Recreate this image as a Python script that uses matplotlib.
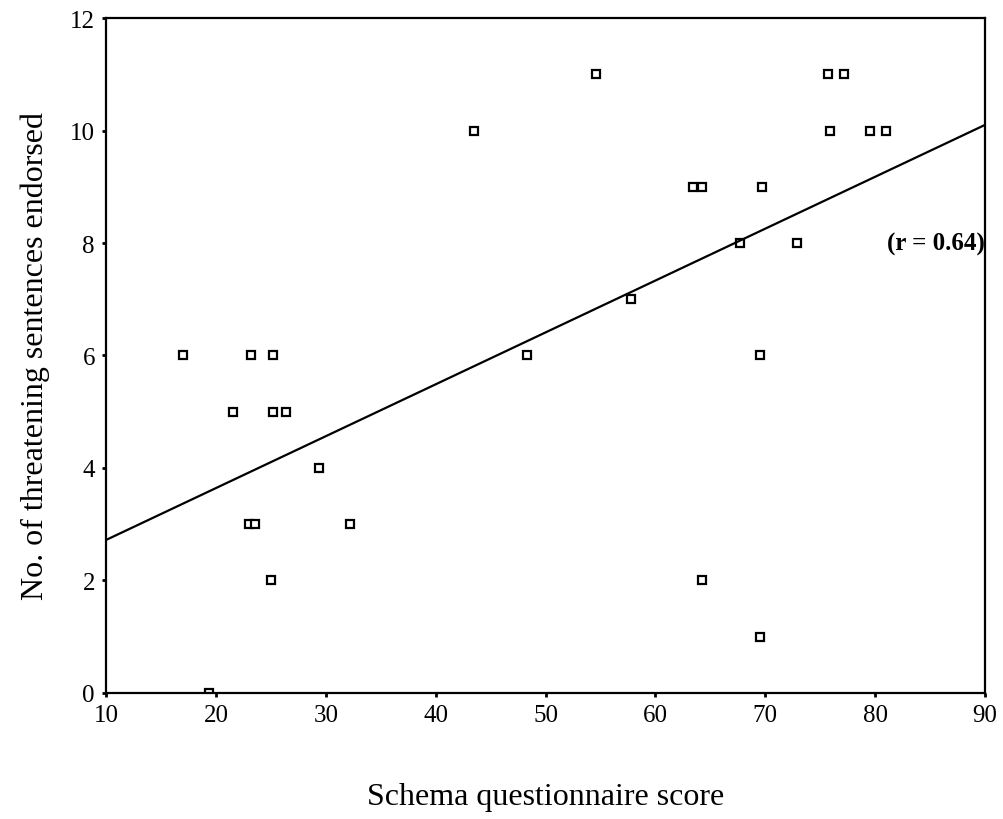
import matplotlib

matplotlib.use("Agg")
import matplotlib.pyplot as plt

plt.rcParams["font.family"] = ["Liberation Serif", "DejaVu Serif"]

# schema questionnaire score vs. number of threatening sentences endorsed
score = [17.0, 21.6, 23.2, 25.2, 25.2, 26.4, 23.0, 23.6, 25.0, 29.4, 32.2, 19.4,
         43.5, 48.3, 54.6, 57.8, 63.4, 64.2, 67.7, 69.7, 69.5, 64.2, 69.5, 72.9,
         75.7, 77.2, 75.9, 79.5, 81.0]
endorsed = [6, 5, 6, 6, 5, 5, 3, 3, 2, 4, 3, 0,
            10, 6, 11, 7, 9, 9, 8, 9, 6, 2, 1, 8,
            11, 11, 10, 10, 10]

# fitted regression line
fit_x = [10, 90]
fit_y = [2.72, 10.1]

fig = plt.figure(figsize=(10.04, 8.2), dpi=100)
ax = fig.add_axes([0.1056, 0.1537, 0.8755, 0.8231])

ax.plot(score, endorsed, ls="none", marker="s", ms=5.5, mfc="white", mec="black", mew=1.6)
ax.plot(fit_x, fit_y, color="black", lw=1.6)
ax.text(90, 8, "(r = 0.64)", ha="right", va="center", fontsize=18, fontweight="bold")

ax.set_xlim(10, 90)
ax.set_ylim(0, 12)
ax.set_xticks(range(10, 91, 10))
ax.set_yticks(range(0, 13, 2))
ax.tick_params(direction="out", length=3, width=2, labelsize=18, pad=5)
for sp in ax.spines.values():
    sp.set_linewidth(1.6)

ax.set_xlabel("Schema questionnaire score", fontsize=23, labelpad=40)
ax.set_ylabel("No. of threatening sentences endorsed", fontsize=23, labelpad=14)

fig.savefig("out.png", dpi=100)
